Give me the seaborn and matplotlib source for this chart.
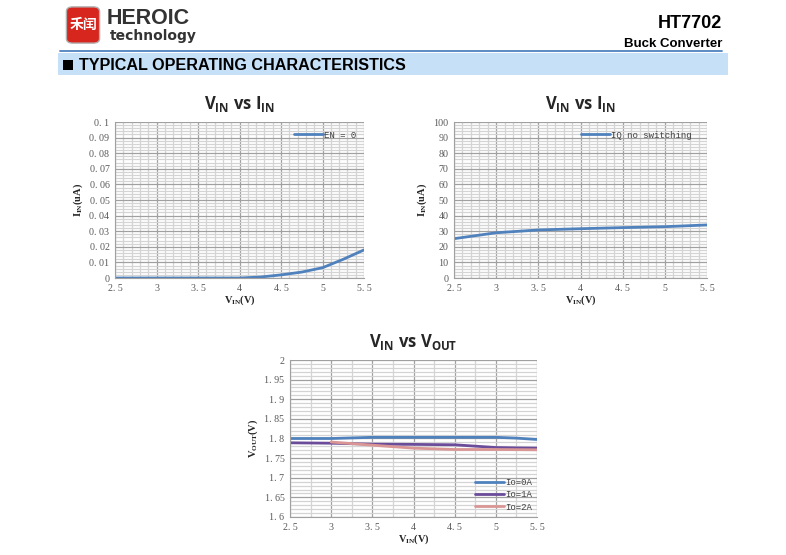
import numpy as np
import pandas as pd
import matplotlib
matplotlib.use("Agg")
import matplotlib.pyplot as plt
from matplotlib.patches import FancyBboxPatch, Rectangle
from matplotlib.ticker import MultipleLocator, FixedLocator
import seaborn as sns

# ---------------- data ----------------
vin_en = [2.5, 3.0, 3.5, 4.0, 4.25, 4.5, 4.75, 5.0, 5.25, 5.5]
iin_en = [0.0, 0.0, 0.0, 0.0, 0.0006, 0.002, 0.0038, 0.0066, 0.012, 0.018]

vin_iq = [2.5, 3.0, 3.5, 4.0, 4.5, 5.0, 5.5]
iin_iq = [25.2, 29.0, 30.8, 31.6, 32.3, 32.9, 34.0]

vin_out = [2.5, 3.0, 3.5, 4.0, 4.5, 5.0, 5.25, 5.5]
vout_0a = [1.800, 1.800, 1.803, 1.803, 1.803, 1.803, 1.801, 1.7975]
vout_1a = [1.789, 1.788, 1.7856, 1.785, 1.784, 1.777, 1.776, 1.7754]
vin_2a = [3.0, 3.5, 4.0, 4.5, 5.0, 5.5]
vout_2a = [1.791, 1.783, 1.7754, 1.772, 1.772, 1.7712]

x_ticks = [2.5, 3, 3.5, 4, 4.5, 5, 5.5]
x_labels = ["2. 5", "3", "3. 5", "4", "4. 5", "5", "5. 5"]
y1_ticks = [0, 0.01, 0.02, 0.03, 0.04, 0.05, 0.06, 0.07, 0.08, 0.09, 0.1]
y1_labels = ["0", "0. 01", "0. 02", "0. 03", "0. 04", "0. 05", "0. 06", "0. 07", "0. 08", "0. 09", "0. 1"]
y2_ticks = [0, 10, 20, 30, 40, 50, 60, 70, 80, 90, 100]
y2_labels = [str(v) for v in y2_ticks]
y3_ticks = [1.6, 1.65, 1.7, 1.75, 1.8, 1.85, 1.9, 1.95, 2.0]
y3_labels = ["1. 6", "1. 65", "1. 7", "1. 75", "1. 8", "1. 85", "1. 9", "1. 95", "2"]

# ---------------- style ----------------
sns.set_style("white")
plt.rcParams['font.family'] = ['DejaVu Sans', 'Noto Sans CJK SC']
plt.rcParams['mathtext.default'] = 'regular'

W, H = 786, 555
fig = plt.figure(figsize=(W / 100, H / 100), dpi=100)

def fx(px):
    return px / W

def fy(py):
    return 1 - py / H

SERIF = 'Liberation Serif'
MONO = 'Liberation Mono'
BLUE = '#4F81BD'
PURPLE = '#6B4C9A'
PINK = '#D99694'

# ---------------- header ----------------
logo = FancyBboxPatch((fx(68), fy(42)), fx(30), 34 / H,
                      boxstyle="round,pad=0.002,rounding_size=0.008",
                      transform=fig.transFigure, facecolor='#D7261E',
                      edgecolor='#B0B0B0', linewidth=1.0)
fig.patches.append(logo)
fig.text(fx(83), fy(25), "禾闰", family=['Noto Sans CJK SC'], color='white',
         fontsize=10, fontweight='bold', ha='center', va='center')
fig.text(fx(107), fy(18), "HEROIC", fontsize=15.5, fontweight='bold',
         color='#333333', ha='left', va='center', family=['Liberation Sans'])
fig.text(fx(110), fy(36), "technology", fontsize=10, fontweight='bold',
         color='#333333', ha='left', va='center', family=['DejaVu Sans'])
fig.text(fx(722), fy(23), "HT7702", fontsize=13, fontweight='bold',
         color='black', ha='right', va='center', family=['Liberation Sans'])
fig.text(fx(722), fy(44), "Buck Converter", fontsize=9.5, fontweight='bold',
         color='black', ha='right', va='center', family=['Liberation Sans'])
fig.add_artist(plt.Line2D([fx(60), fx(722)], [fy(51.5), fy(51.5)],
                          transform=fig.transFigure, color='#4F81BD', lw=1.3))
fig.patches.append(Rectangle((fx(58), fy(75)), fx(670), 22 / H,
                             transform=fig.transFigure, facecolor='#C6E0F8',
                             edgecolor='none'))
fig.patches.append(Rectangle((fx(63), fy(70)), fx(10), 10 / H,
                             transform=fig.transFigure, facecolor='black',
                             edgecolor='none'))
fig.text(fx(79), fy(65), "TYPICAL OPERATING CHARACTERISTICS", fontsize=11.6,
         fontweight='bold', color='black', ha='left', va='center',
         family=['Liberation Sans'])

# ---------------- chart helper ----------------
def make_axes(l, t, r, b):
    return fig.add_axes([fx(l), fy(b), fx(r - l), (b - t) / H])

def style_axes(ax, xmin, xmax, ymin, ymax, yticks, ylabels, xminor, yminor,
               ylabel, title):
    ax.set_xlim(xmin, xmax)
    ax.set_ylim(ymin, ymax)
    ax.xaxis.set_major_locator(FixedLocator(x_ticks))
    ax.set_xticklabels(x_labels)
    ax.yaxis.set_major_locator(FixedLocator(yticks))
    ax.set_yticklabels(ylabels)
    ax.xaxis.set_minor_locator(MultipleLocator(xminor))
    ax.yaxis.set_minor_locator(MultipleLocator(yminor))
    ax.grid(which='minor', color='#D4D4D4', linewidth=0.9)
    ax.grid(which='major', color='#A0A0A0', linewidth=0.9)
    ax.set_axisbelow(True)
    for s in ax.spines.values():
        s.set_visible(False)
    ax.spines['left'].set_visible(True)
    ax.spines['left'].set_color('#A0A0A0')
    ax.spines['bottom'].set_visible(True)
    ax.spines['bottom'].set_color('#A0A0A0')
    ax.tick_params(which='both', length=0, labelsize=7.2, labelcolor='#595959',
                   pad=4)
    for lab in ax.get_xticklabels() + ax.get_yticklabels():
        lab.set_family(SERIF)
    ax.set_xlabel("V$_{IN}$(V)", family=SERIF, fontweight='bold', fontsize=7.5,
                  labelpad=1)
    ax.set_ylabel(ylabel, family=SERIF, fontweight='bold', fontsize=7.5,
                  labelpad=3)
    ax.set_title(title, fontsize=12, fontweight='bold', family='Open Sans',
                 pad=9)

def style_legend(ax, loc, anchor):
    leg = ax.legend(loc=loc, bbox_to_anchor=anchor, frameon=False,
                    prop={'family': MONO, 'size': 6.5}, handlelength=3.2,
                    handletextpad=0.1, labelspacing=0.35, borderaxespad=0.2)
    for t in leg.get_texts():
        t.set_color('#404040')
    return leg

# ---------------- chart 1 ----------------
ax1 = make_axes(115, 122, 364, 278)
df1 = pd.DataFrame({'VIN': vin_en, 'IIN': iin_en, 's': 'EN = 0'})
sns.lineplot(data=df1, x='VIN', y='IIN', hue='s', palette=[BLUE], ax=ax1,
             linewidth=2.0)
style_axes(ax1, 2.5, 5.5, 0, 0.1, y1_ticks, y1_labels, 0.1, 0.002,
           "I$_{IN}$(uA)", "V$_{IN}$ vs I$_{IN}$")
style_legend(ax1, 'upper right', (0.99, 0.98))

# ---------------- chart 2 ----------------
ax2 = make_axes(454, 122, 707, 278)
df2 = pd.DataFrame({'VIN': vin_iq, 'IIN': iin_iq, 's': 'IQ no switching'})
sns.lineplot(data=df2, x='VIN', y='IIN', hue='s', palette=[BLUE], ax=ax2,
             linewidth=2.0)
style_axes(ax2, 2.5, 5.5, 0, 100, y2_ticks, y2_labels, 0.1, 2,
           "I$_{IN}$(uA)", "V$_{IN}$ vs I$_{IN}$")
style_legend(ax2, 'upper right', (0.96, 0.98))

# ---------------- chart 3 ----------------
ax3 = make_axes(290, 360, 537, 517)
df3 = pd.concat([
    pd.DataFrame({'VIN': vin_out, 'VOUT': vout_0a, 's': 'Io=0A'}),
    pd.DataFrame({'VIN': vin_out, 'VOUT': vout_1a, 's': 'Io=1A'}),
    pd.DataFrame({'VIN': vin_2a, 'VOUT': vout_2a, 's': 'Io=2A'}),
])
sns.lineplot(data=df3, x='VIN', y='VOUT', hue='s',
             palette=[BLUE, PURPLE, PINK], ax=ax3, linewidth=2.0)
style_axes(ax3, 2.5, 5.5, 1.6, 2.0, y3_ticks, y3_labels, 0.25, 0.01,
           "V$_{OUT}$(V)", "V$_{IN}$ vs V$_{OUT}$")
style_legend(ax3, 'lower right', (1.0, 0.0))

fig.savefig("out.png", dpi=100, facecolor='white')
